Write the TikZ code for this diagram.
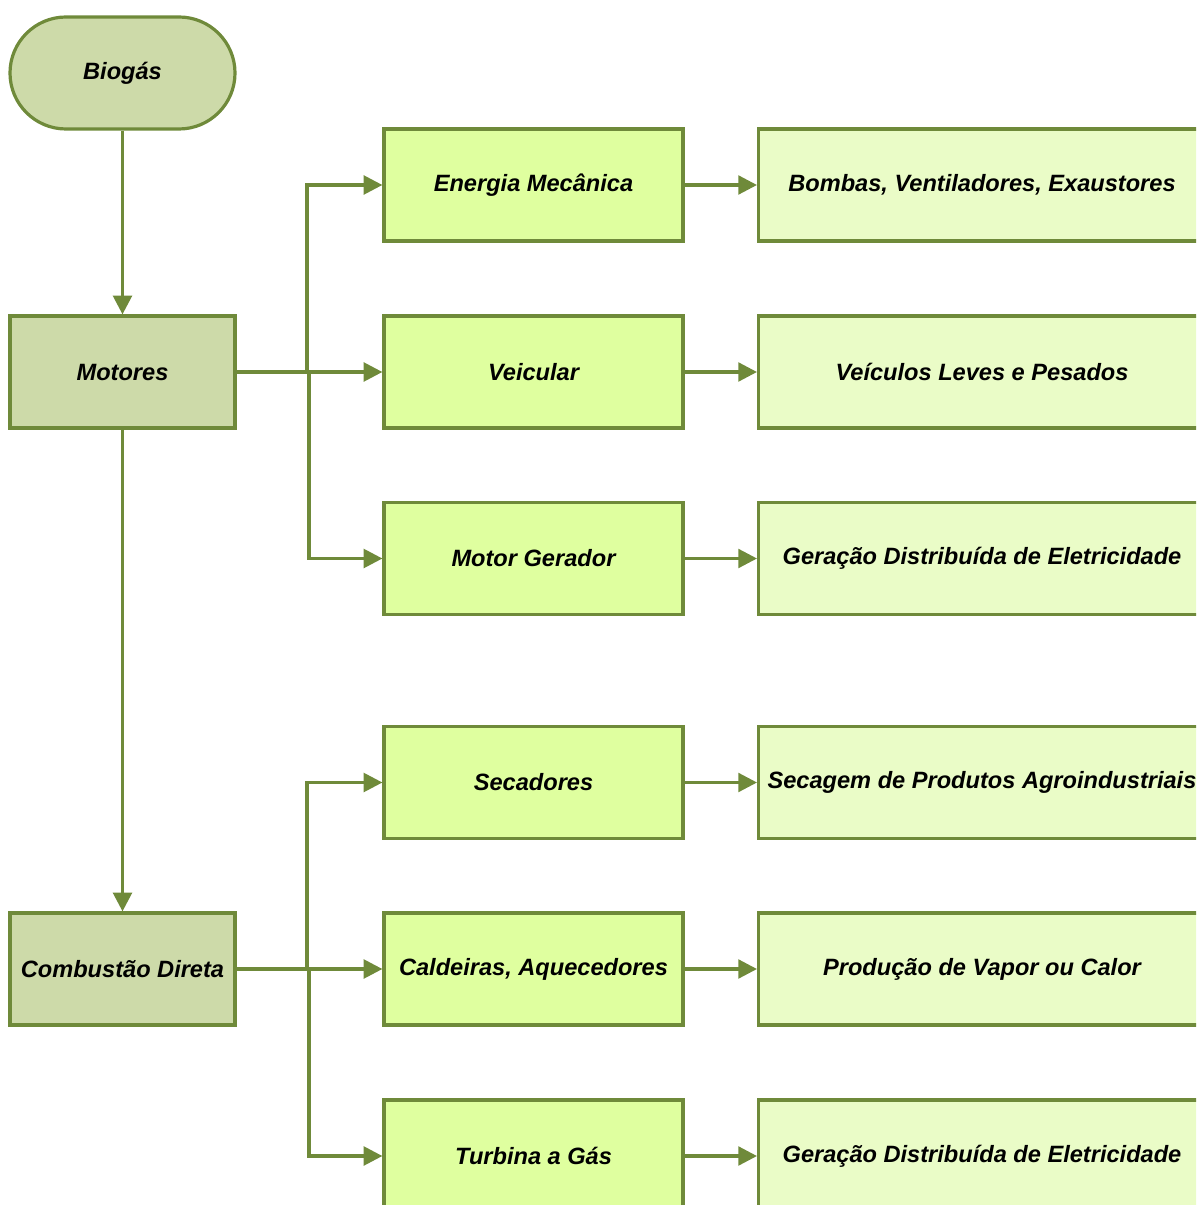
\documentclass[tikz,border=0pt]{standalone}
\usepackage{fontspec}
\setmainfont{Liberation Sans}
\usetikzlibrary{arrows.meta}
\definecolor{edge}{HTML}{6F8A3A}
\definecolor{darkfill}{HTML}{CDDAA9}
\definecolor{midfill}{HTML}{DFFF9F}
\definecolor{rightfill}{HTML}{EAFCC7}
\tikzset{
  base/.style={draw=edge, line width=2.4pt, font=\bfseries\itshape\fontsize{17.7}{20}\selectfont, text=black, inner sep=0pt, align=center},
  leftbox/.style={base, fill=darkfill, minimum width=225*0.75pt, minimum height=112*0.75pt},
  startbox/.style={base, fill=darkfill, rounded corners=56*0.75pt, minimum width=225*0.75pt, minimum height=112*0.75pt},
  midbox/.style={base, fill=midfill, minimum width=299*0.75pt, minimum height=112*0.75pt},
  rightbox/.style={base, fill=rightfill, minimum width=480*0.75pt, minimum height=112*0.75pt},
  conn/.style={draw=edge, line width=2.4pt, -{Triangle[length=14pt,width=14pt]}},
}
\begin{document}
\begin{tikzpicture}[x=0.75pt,y=-0.75pt]
\useasboundingbox (0,0) rectangle (1196,1205);
\clip (0,0) rectangle (1196,1205);
% left column
\node[startbox] (bio) at (122.5,73) {Biogás};
\node[leftbox] (mot) at (122.5,372) {Motores};
\node[leftbox] (comb) at (122.5,969) {Combustão Direta};
% middle column
\node[midbox] (em) at (533.5,185) {Energia Mecânica};
\node[midbox] (vei) at (533.5,372) {Veicular};
\node[midbox] (mg) at (533.5,558.5) {Motor Gerador};
\node[midbox] (sec) at (533.5,782.5) {Secadores};
\node[midbox] (cal) at (533.5,969) {Caldeiras, Aquecedores};
\node[midbox] (tur) at (533.5,1156) {Turbina a Gás};
% right column (extends past the right edge)
\node[rightbox, anchor=west] (r1) at (757,185) {};
\node[rightbox, anchor=west] (r2) at (757,372) {};
\node[rightbox, anchor=west] (r3) at (757,558.5) {};
\node[rightbox, anchor=west] (r4) at (757,782.5) {};
\node[rightbox, anchor=west] (r5) at (757,969) {};
\node[rightbox, anchor=west] (r6) at (757,1156) {};
\node[base, draw=none] (t1) at (982,185) {Bombas, Ventiladores, Exaustores};
\node[base, draw=none] (t2) at (982,372) {Veículos Leves e Pesados};
\node[base, draw=none] (t3) at (982,558.5) {Geração Distribuída de Eletricidade};
\node[base, draw=none] (t4) at (982,782.5) {Secagem de Produtos Agroindustriais};
\node[base, draw=none] (t5) at (982,969) {Produção de Vapor ou Calor};
\node[base, draw=none] (t6) at (982,1156) {Geração Distribuída de Eletricidade};
% vertical connectors
\draw[conn] (bio) -- (mot);
\draw[conn] (mot) -- (comb);
% Motores branches
\draw[conn] (mot.east) -| (307,185) -- (em.west);
\draw[conn] (mot.east) -- (vei.west);
\draw[conn] (mot.east) -| (309,558.5) -- (mg.west);
% Combustao branches
\draw[conn] (comb.east) -| (307,782.5) -- (sec.west);
\draw[conn] (comb.east) -- (cal.west);
\draw[conn] (comb.east) -| (309,1156) -- (tur.west);
% middle to right
\draw[conn] (em.east) -- (r1.west);
\draw[conn] (vei.east) -- (r2.west);
\draw[conn] (mg.east) -- (r3.west);
\draw[conn] (sec.east) -- (r4.west);
\draw[conn] (cal.east) -- (r5.west);
\draw[conn] (tur.east) -- (r6.west);
\end{tikzpicture}
\end{document}
